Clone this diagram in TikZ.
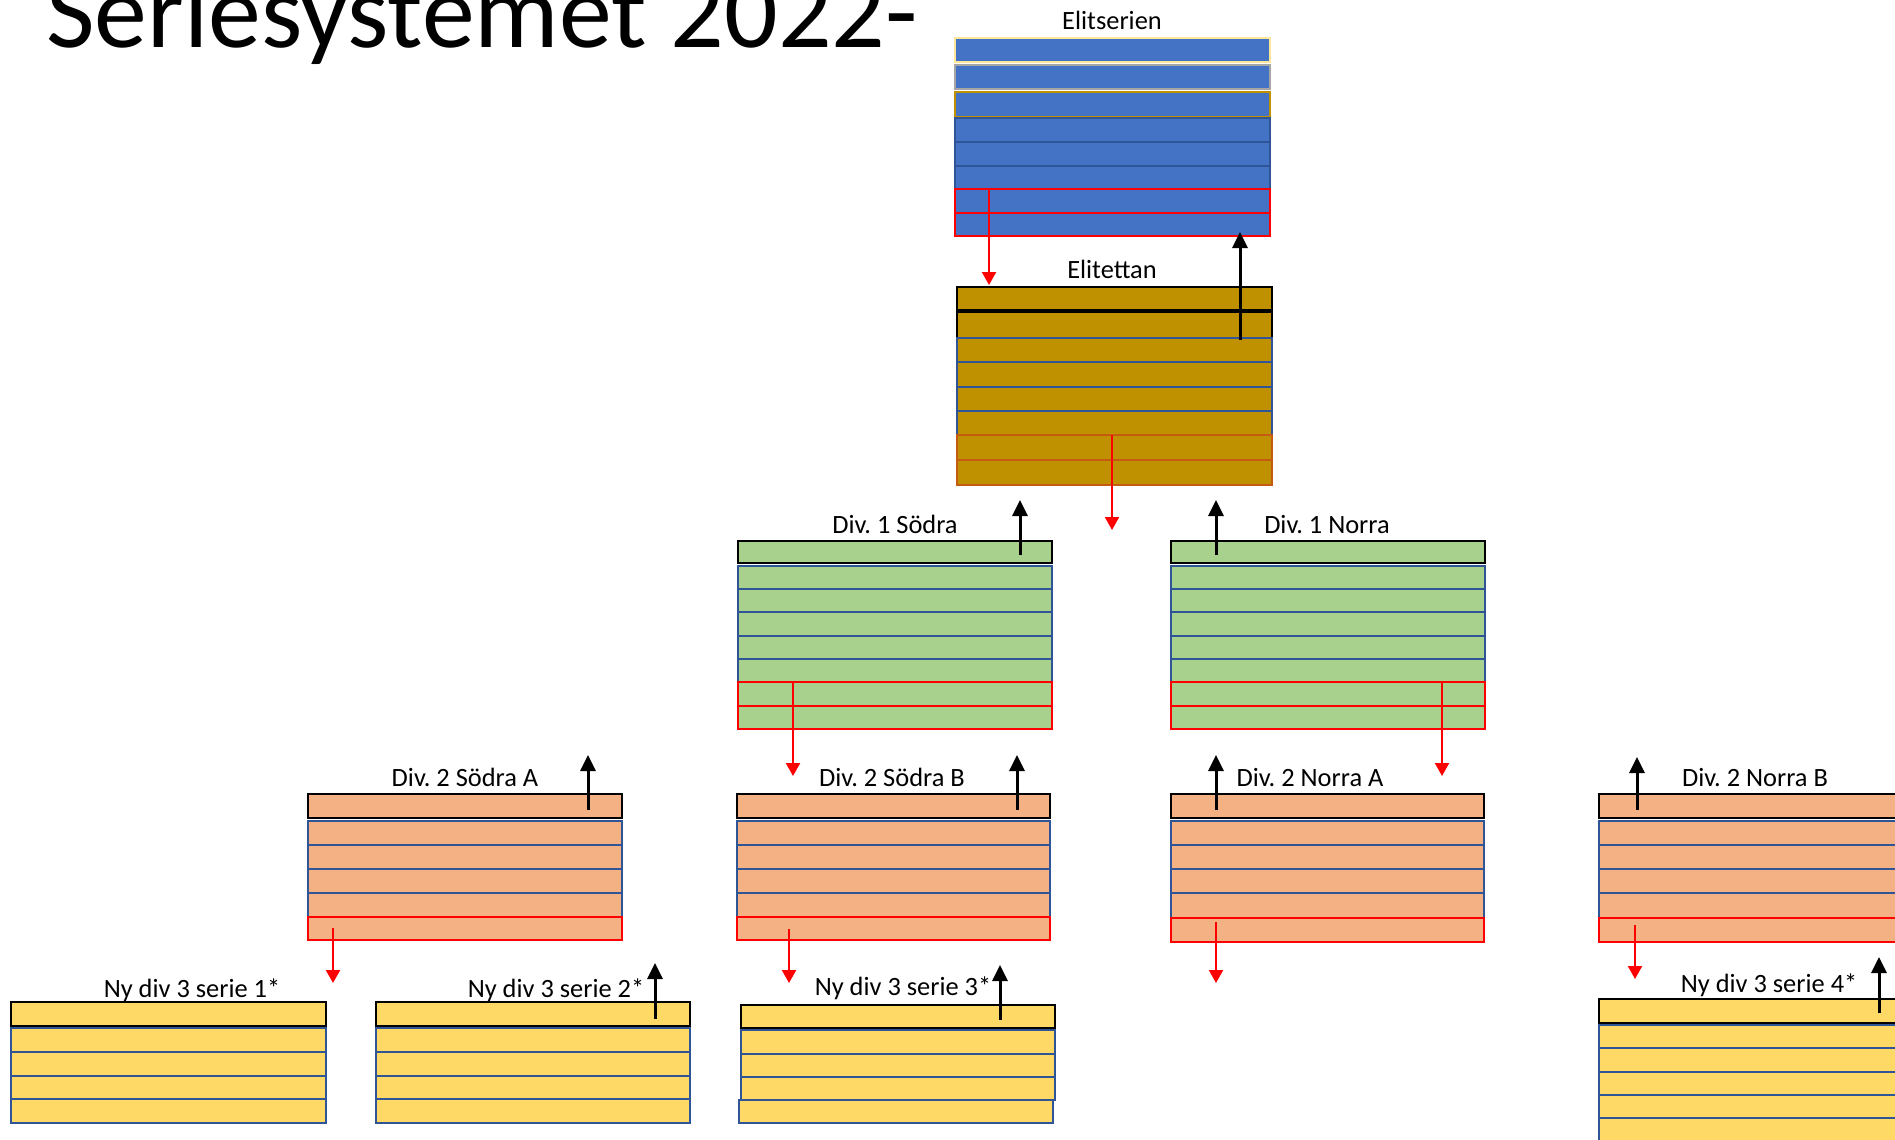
\documentclass[tikz,border=0pt]{standalone}
\usepackage{fontspec}
\setmainfont{Carlito}
\frenchspacing
\usetikzlibrary{arrows.meta}
\definecolor{esblue}{HTML}{4472C4}
\definecolor{dkblue}{HTML}{2F5597}
\definecolor{gold}{HTML}{BF9000}
\definecolor{lgold}{HTML}{FFE699}
\definecolor{gry}{HTML}{A5A5A5}
\definecolor{grn}{HTML}{A9D18E}
\definecolor{peach}{HTML}{F4B183}
\definecolor{yel}{HTML}{FFD966}
\definecolor{orng}{HTML}{C55A11}
\newcommand\seriestack[4]{\foreach \ya/\yb/\cc in {#4} {\draw[rowbox, draw=\cc, fill=#3] (#1,\ya) rectangle (#2,\yb);}}
\tikzset{
  lab/.style={font=\fontsize{26.4}{30}\selectfont, inner sep=0pt, anchor=base},
  rowbox/.style={line width=2.6pt},
  upar/.style={draw=black, line width=3pt, -{Triangle[width=15pt,length=16pt]}},
  downar/.style={draw=red, line width=2.2pt, -{Triangle[width=14pt,length=13pt]}},
}
\begin{document}
\begin{tikzpicture}[x=1pt,y=-1pt]
\useasboundingbox (0,0) rectangle (1895,1140);
\clip (0,0) rectangle (1895,1140);
% title
\node[inner sep=0pt, anchor=base west, font=\fontsize{105.8}{110}\selectfont] (title) at (46,48) {Seriesystemet 2022-};
% Elitserien
\seriestack{955}{1270}{esblue}{38/62/lgold, 65/89/gry, 92/117/gold, 118/142/dkblue, 142/166/dkblue, 166/189/dkblue, 189/213/red, 213/236/red}
\node[lab] (es) at (1112,30) {Elitserien};
% Elitettan
\seriestack{957}{1272}{gold}{287/310/black, 312/338/black, 338/362/dkblue, 362/387/dkblue, 387/411/dkblue, 411/435/dkblue, 435/460/orng, 460/485/orng}
\node[lab] (et) at (1112,278) {Elitettan};
% Div 1
\seriestack{738}{1052}{grn}{541/563/black, 566/589/dkblue, 589/612/dkblue, 612/636/dkblue, 636/659/dkblue, 659/682/dkblue, 682/706/red, 706/729/red}
\node[lab] (d1s) at (895,533) {Div. 1 Södra};
\seriestack{1171}{1485}{grn}{541/563/black, 566/589/dkblue, 589/612/dkblue, 612/636/dkblue, 636/659/dkblue, 659/682/dkblue, 682/706/red, 706/729/red}
\node[lab] (d1n) at (1327,533) {Div. 1 Norra};
% Div 2
\seriestack{308}{622}{peach}{794/818/black, 821/845/dkblue, 845/869/dkblue, 869/893/dkblue, 893/917/dkblue, 917/940/red}
\node[lab] (d2sa) at (465,786) {Div. 2 Södra A};
\seriestack{737}{1050}{peach}{794/818/black, 821/845/dkblue, 845/869/dkblue, 869/893/dkblue, 893/917/dkblue, 917/940/red}
\node[lab] (d2sb) at (892,786) {Div. 2 Södra B};
\seriestack{1171}{1484}{peach}{794/818/black, 821/845/dkblue, 845/869/dkblue, 869/893/dkblue, 893/918/dkblue, 918/942/red}
\node[lab] (d2na) at (1310,786) {Div. 2 Norra A};
\seriestack{1599}{1913}{peach}{794/818/black, 821/845/dkblue, 845/869/dkblue, 869/893/dkblue, 893/918/dkblue, 918/942/red}
\node[lab] (d2nb) at (1755,786) {Div. 2 Norra B};
% Div 3
\seriestack{11}{326}{yel}{1002/1026/black, 1028/1052/dkblue, 1052/1076/dkblue, 1076/1099/dkblue, 1099/1123/dkblue}
\node[lab] (s1) at (192,997) {Ny div 3 serie 1*};
\seriestack{376}{690}{yel}{1002/1026/black, 1028/1052/dkblue, 1052/1076/dkblue, 1076/1099/dkblue, 1099/1123/dkblue}
\node[lab] (s2) at (556,997) {Ny div 3 serie 2*};
\seriestack{741}{1055}{yel}{1005/1028/black, 1030/1054/dkblue, 1054/1077/dkblue, 1077/1100/dkblue}
\draw[rowbox, draw=dkblue, fill=yel] (739,1100) rectangle (1053,1123);
\node[lab] (s3) at (903,995) {Ny div 3 serie 3*};
\seriestack{1599}{1913}{yel}{999/1023/black, 1025/1048/dkblue, 1048/1072/dkblue, 1072/1095/dkblue, 1095/1118/dkblue, 1118/1142/dkblue}
\node[lab] (s4) at (1769,992) {Ny div 3 serie 4*};
% arrow end points
\coordinate (a1s) at (989,189);  \coordinate (a1e) at (989,285);
\coordinate (a2s) at (1240,340); \coordinate (a2e) at (1240,232);
\coordinate (a3s) at (1112,435); \coordinate (a3e) at (1112,530);
\coordinate (a4s) at (1020,555); \coordinate (a4e) at (1020,500);
\coordinate (a5s) at (1216,555); \coordinate (a5e) at (1216,500);
\coordinate (a6s) at (793,682);  \coordinate (a6e) at (793,776);
\coordinate (a7s) at (1442,682); \coordinate (a7e) at (1442,776);
\coordinate (a8s) at (588,810);  \coordinate (a8e) at (588,755);
\coordinate (a9s) at (1017,810); \coordinate (a9e) at (1017,755);
\coordinate (a10s) at (1216,810); \coordinate (a10e) at (1216,755);
\coordinate (a11s) at (1637,810); \coordinate (a11e) at (1637,757);
\coordinate (a12s) at (333,928);  \coordinate (a12e) at (333,983);
\coordinate (a13s) at (789,929);  \coordinate (a13e) at (789,983);
\coordinate (a14s) at (1216,922); \coordinate (a14e) at (1216,983);
\coordinate (a15s) at (1635,925); \coordinate (a15e) at (1635,979);
\coordinate (a16s) at (655,1019); \coordinate (a16e) at (655,963);
\coordinate (a17s) at (1000,1020); \coordinate (a17e) at (1000,965);
\coordinate (a18s) at (1879,1013); \coordinate (a18e) at (1879,957);
% arrows
\draw[downar] (a1s) -- (a1e);
\draw[upar] (a2s) -- (a2e);
\draw[downar] (a3s) -- (a3e);
\draw[upar] (a4s) -- (a4e);
\draw[upar] (a5s) -- (a5e);
\draw[downar] (a6s) -- (a6e);
\draw[downar] (a7s) -- (a7e);
\draw[upar] (a8s) -- (a8e);
\draw[upar] (a9s) -- (a9e);
\draw[upar] (a10s) -- (a10e);
\draw[upar] (a11s) -- (a11e);
\draw[downar] (a12s) -- (a12e);
\draw[downar] (a13s) -- (a13e);
\draw[downar] (a14s) -- (a14e);
\draw[downar] (a15s) -- (a15e);
\draw[upar] (a16s) -- (a16e);
\draw[upar] (a17s) -- (a17e);
\draw[upar] (a18s) -- (a18e);
\end{tikzpicture}
\end{document}
